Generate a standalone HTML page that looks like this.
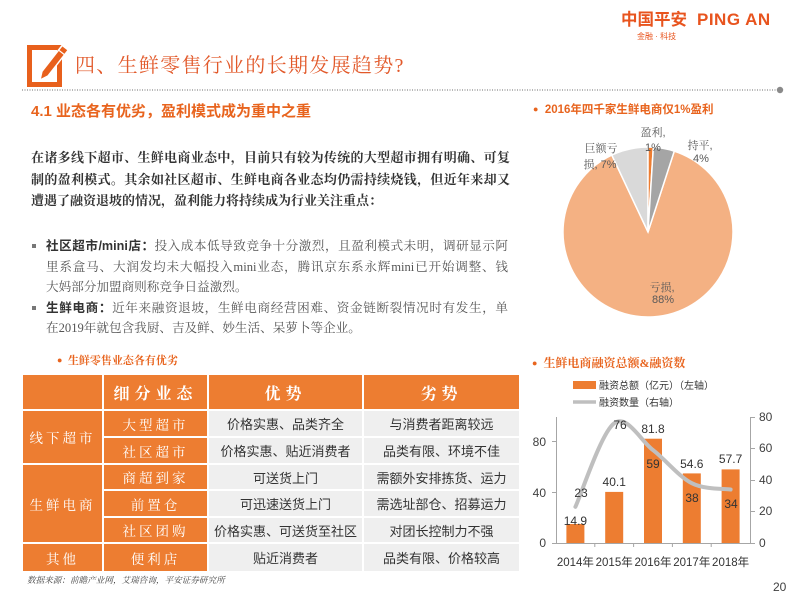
<!DOCTYPE html>
<html><head><meta charset="utf-8">
<style>
*{margin:0;padding:0;box-sizing:border-box}
body{width:800px;height:597px;background:#fff;position:relative;overflow:hidden;font-family:"Liberation Sans","Noto Sans CJK SC",sans-serif}
.a{position:absolute;white-space:nowrap}
.serif{font-family:"Liberation Serif","Noto Serif CJK SC",serif}
.pl{position:absolute;left:31px;width:479px;font-size:13px;line-height:16px;height:16px;white-space:nowrap;color:#333;font-weight:bold;font-family:"Liberation Serif","Noto Serif CJK SC",serif}
.bl{position:absolute;left:46px;width:462px;font-size:12.6px;line-height:16px;height:16px;white-space:nowrap;color:#555;font-family:"Liberation Serif","Noto Serif CJK SC",serif}
.bl b{color:#333;font-family:"Liberation Sans","Noto Sans CJK SC",sans-serif;font-weight:bold}
.j{text-align:justify;text-align-last:justify}
.c{position:absolute;display:flex;align-items:center;justify-content:center;white-space:nowrap}
.o{background:#ED7D31;color:#fff;font-family:"Liberation Serif","Noto Serif CJK SC",serif;font-size:13.5px;letter-spacing:3px}
.h{font-size:16px;font-weight:bold;letter-spacing:5px}
.g{background:#EFEFEF;color:#333;font-size:13px}
.bul{position:absolute;left:32px;width:4px;height:4px;background:#777}
</style></head><body>

<svg width="800" height="597" style="position:absolute;left:0;top:0">
  <!-- header icon -->
  <rect x="29.5" y="47.5" width="30" height="37" fill="none" stroke="#E8601C" stroke-width="5"/>
  <g transform="translate(40 80) rotate(-52)">
    <polygon points="0,0 8,-3.8 41,-3.8 41,3.8 8,3.8" fill="#E8601C" stroke="#fff" stroke-width="1.5"/>
    <line x1="35" y1="-3.8" x2="35" y2="3.8" stroke="#fff" stroke-width="1.2"/>
  </g>
  <line x1="22" y1="90" x2="777" y2="90" stroke="#8a8a8a" stroke-width="1.3" stroke-dasharray="1 1.5"/>
  <circle cx="780" cy="90" r="3.2" fill="#8a8a8a"/>

  <!-- pie chart -->
  <g stroke="#fff" stroke-width="1.5">
    <path d="M648,232 L674.27,151.16 A85,85 0 1,1 611.81,155.09 Z" fill="#F4B183"/>
    <path d="M648,232 L611.81,155.09 A85,85 0 0,1 648,147 Z" fill="#D9D9D9"/>
    <path d="M648,232 L648,147 A85,85 0 0,1 653.34,147.17 Z" fill="#ED7D31"/>
    <path d="M648,232 L653.34,147.17 A85,85 0 0,1 674.27,151.16 Z" fill="#A5A5A5"/>
  </g>
  <g font-size="11" fill="#595959" text-anchor="middle" font-family="Liberation Sans, Noto Serif CJK SC, serif">
    <text x="653" y="136">盈利,</text>
    <text x="653" y="151">1%</text>
    <text x="700" y="149">持平,</text>
    <text x="701" y="162">4%</text>
    <text x="601" y="152">巨额亏</text>
    <text x="600" y="168">损, 7%</text>
    <text x="662" y="291">亏损,</text>
    <text x="663" y="303">88%</text>
  </g>

  <!-- bar chart axes -->
  <g stroke="#A6A6A6" stroke-width="1">
    <line x1="556.5" y1="417" x2="556.5" y2="543"/>
    <line x1="552" y1="441.5" x2="556.5" y2="441.5"/>
    <line x1="552" y1="492.5" x2="556.5" y2="492.5"/>
    <line x1="552" y1="543.5" x2="556.5" y2="543.5"/>
    <line x1="750.5" y1="417" x2="750.5" y2="543"/>
    <line x1="750.5" y1="417.5" x2="755" y2="417.5"/>
    <line x1="750.5" y1="448.5" x2="755" y2="448.5"/>
    <line x1="750.5" y1="480.5" x2="755" y2="480.5"/>
    <line x1="750.5" y1="511.5" x2="755" y2="511.5"/>
    <line x1="750.5" y1="543.5" x2="755" y2="543.5"/>
    <line x1="556" y1="543.5" x2="751" y2="543.5"/>
    <line x1="594.8" y1="543" x2="594.8" y2="547"/>
    <line x1="633.6" y1="543" x2="633.6" y2="547"/>
    <line x1="672.4" y1="543" x2="672.4" y2="547"/>
    <line x1="711.2" y1="543" x2="711.2" y2="547"/>
  </g>
  <g fill="#ED7D31">
    <rect x="566.4" y="524" width="18" height="19"/>
    <rect x="605.2" y="491.9" width="18" height="51.1"/>
    <rect x="644" y="438.7" width="18" height="104.3"/>
    <rect x="682.8" y="473.4" width="18" height="69.6"/>
    <rect x="721.6" y="469.4" width="18" height="73.6"/>
  </g>
  <path d="M575.4,506.8 C581.87,492.88 601.27,432.75 614.2,423.3 C627.13,413.85 640.07,440.12 653,450.1 C665.93,460.08 678.87,476.63 691.8,483.2 C704.73,489.77 724.13,488.45 730.6,489.5" fill="none" stroke="#BFBFBF" stroke-width="4" stroke-linecap="round"/>
  <g font-size="12" fill="#333" text-anchor="middle" font-family="Liberation Sans, sans-serif">
    <text x="575.4" y="525">14.9</text>
    <text x="614.2" y="486">40.1</text>
    <text x="653" y="433">81.8</text>
    <text x="691.8" y="468">54.6</text>
    <text x="730.6" y="463">57.7</text>
    <text x="581" y="497">23</text>
    <text x="620" y="429">76</text>
    <text x="653" y="468">59</text>
    <text x="692" y="502">38</text>
    <text x="731" y="508">34</text>
  </g>
  <g font-size="12" fill="#404040" font-family="Liberation Sans, sans-serif">
    <text x="546" y="446" text-anchor="end">80</text>
    <text x="546" y="497" text-anchor="end">40</text>
    <text x="546" y="547" text-anchor="end">0</text>
    <text x="759" y="421">80</text>
    <text x="759" y="452">60</text>
    <text x="759" y="484">40</text>
    <text x="759" y="515">20</text>
    <text x="759" y="547">0</text>
  </g>
  <g font-size="11.5" fill="#333" text-anchor="middle" font-family="Liberation Sans, Noto Sans CJK SC, sans-serif">
    <text x="575.4" y="566">2014年</text>
    <text x="614.2" y="566">2015年</text>
    <text x="653" y="566">2016年</text>
    <text x="691.8" y="566">2017年</text>
    <text x="730.6" y="566">2018年</text>
  </g>
  <!-- legend -->
  <rect x="573" y="381" width="23" height="8" fill="#ED7D31"/>
  <line x1="573" y1="402" x2="596" y2="402" stroke="#BFBFBF" stroke-width="3.5"/>
  <g font-size="10" fill="#333" font-family="Liberation Sans, Noto Sans CJK SC, sans-serif">
    <text x="599" y="389">融资总额（亿元）（左轴）</text>
    <text x="599" y="406">融资数量（右轴）</text>
  </g>
</svg>

<!-- logo -->
<div class="a" style="left:621px;top:9px;font-size:16.5px;font-weight:bold;color:#E8541E;font-family:'Liberation Sans','Noto Sans CJK SC',sans-serif;line-height:22px">中国平安</div>
<div class="a" style="left:697px;top:9px;font-size:17px;font-weight:bold;color:#E8541E;line-height:22px;letter-spacing:0.5px">PING AN</div>
<div class="a" style="left:637px;top:32px;font-size:8px;color:#E8541E;line-height:10px">金融 · 科技</div>

<!-- title -->
<div class="a serif" style="left:75px;top:53px;font-size:20px;line-height:26px;color:#E2592A;letter-spacing:1.3px">四、生鲜零售行业的长期发展趋势?</div>

<!-- section heading -->
<div class="a" style="left:31px;top:103px;font-size:15px;line-height:18px;font-weight:bold;color:#E8641E">4.1 业态各有优劣，盈利模式成为重中之重</div>

<!-- paragraph -->
<div class="pl j" style="top:150px">在诸多线下超市、生鲜电商业态中，目前只有较为传统的大型超市拥有明确、可复</div>
<div class="pl j" style="top:172px">制的盈利模式。其余如社区超市、生鲜电商各业态均仍需持续烧钱，但近年来却又</div>
<div class="pl" style="top:193px">遭遇了融资退坡的情况，盈利能力将持续成为行业关注重点：</div>

<!-- bullets -->
<div class="bul" style="top:244px"></div>
<div class="bl j" style="top:238px"><b>社区超市/mini店：</b>投入成本低导致竞争十分激烈，且盈利模式未明，调研显示阿</div>
<div class="bl j" style="top:259px">里系盒马、大润发均未大幅投入mini业态，腾讯京东系永辉mini已开始调整、钱</div>
<div class="bl" style="top:279px">大妈部分加盟商则称竞争日益激烈。</div>
<div class="bul" style="top:306px"></div>
<div class="bl j" style="top:300px"><b>生鲜电商：</b>近年来融资退坡，生鲜电商经营困难、资金链断裂情况时有发生，单</div>
<div class="bl" style="top:320px">在2019年就包含我厨、吉及鲜、妙生活、呆萝卜等企业。</div>

<!-- pie title -->
<div class="a" style="left:533px;top:102px;font-size:11.5px;line-height:16px;font-weight:bold;color:#E8641E"><span style="font-size:9px;position:relative;top:-1px">●</span>&nbsp;&nbsp;2016年四千家生鲜电商仅1%盈利</div>

<!-- bar chart title -->
<div class="a serif" style="left:532px;top:355px;font-size:12px;line-height:16px;font-weight:bold;color:#E8641E"><span style="font-size:9px;position:relative;top:-1px">●</span>&nbsp;&nbsp;生鲜电商融资总额&amp;融资数</div>

<!-- table title -->
<div class="a serif" style="left:57px;top:353px;font-size:11px;line-height:16px;font-weight:bold;color:#E8641E"><span style="font-size:9px;position:relative;top:-1px">●</span>&nbsp;&nbsp;生鲜零售业态各有优劣</div>

<!-- table -->
<div class="c o" style="left:23px;top:375px;width:79px;height:34px"></div>
<div class="c o h" style="left:104px;top:375px;width:103px;height:34px">细分业态</div>
<div class="c o h" style="left:209px;top:375px;width:153px;height:34px">优势</div>
<div class="c o h" style="left:364px;top:375px;width:155px;height:34px">劣势</div>

<div class="c o" style="left:23px;top:411px;width:79px;height:52px">线下超市</div>
<div class="c o" style="left:23px;top:465px;width:79px;height:77px">生鲜电商</div>
<div class="c o" style="left:23px;top:544px;width:79px;height:27px">其他</div>

<div class="c o" style="left:104px;top:411px;width:103px;height:25px">大型超市</div>
<div class="c o" style="left:104px;top:438px;width:103px;height:25px">社区超市</div>
<div class="c o" style="left:104px;top:465px;width:103px;height:24px">商超到家</div>
<div class="c o" style="left:104px;top:491px;width:103px;height:25px">前置仓</div>
<div class="c o" style="left:104px;top:518px;width:103px;height:24px">社区团购</div>
<div class="c o" style="left:104px;top:544px;width:103px;height:27px">便利店</div>

<div class="c g" style="left:209px;top:411px;width:153px;height:25px">价格实惠、品类齐全</div>
<div class="c g" style="left:209px;top:438px;width:153px;height:25px">价格实惠、贴近消费者</div>
<div class="c g" style="left:209px;top:465px;width:153px;height:24px">可送货上门</div>
<div class="c g" style="left:209px;top:491px;width:153px;height:25px">可迅速送货上门</div>
<div class="c g" style="left:209px;top:518px;width:153px;height:24px">价格实惠、可送货至社区</div>
<div class="c g" style="left:209px;top:544px;width:153px;height:27px">贴近消费者</div>

<div class="c g" style="left:364px;top:411px;width:155px;height:25px">与消费者距离较远</div>
<div class="c g" style="left:364px;top:438px;width:155px;height:25px">品类有限、环境不佳</div>
<div class="c g" style="left:364px;top:465px;width:155px;height:24px">需额外安排拣货、运力</div>
<div class="c g" style="left:364px;top:491px;width:155px;height:25px">需选址部仓、招募运力</div>
<div class="c g" style="left:364px;top:518px;width:155px;height:24px">对团长控制力不强</div>
<div class="c g" style="left:364px;top:544px;width:155px;height:27px">品类有限、价格较高</div>

<!-- source -->
<div class="a serif" style="left:27px;top:574px;font-size:8.6px;line-height:12px;font-style:italic;color:#444">数据来源：前瞻产业网，艾瑞咨询，平安证券研究所</div>

<!-- page number -->
<div class="a" style="left:773px;top:580px;font-size:12px;line-height:14px;color:#404040">20</div>

</body></html>
